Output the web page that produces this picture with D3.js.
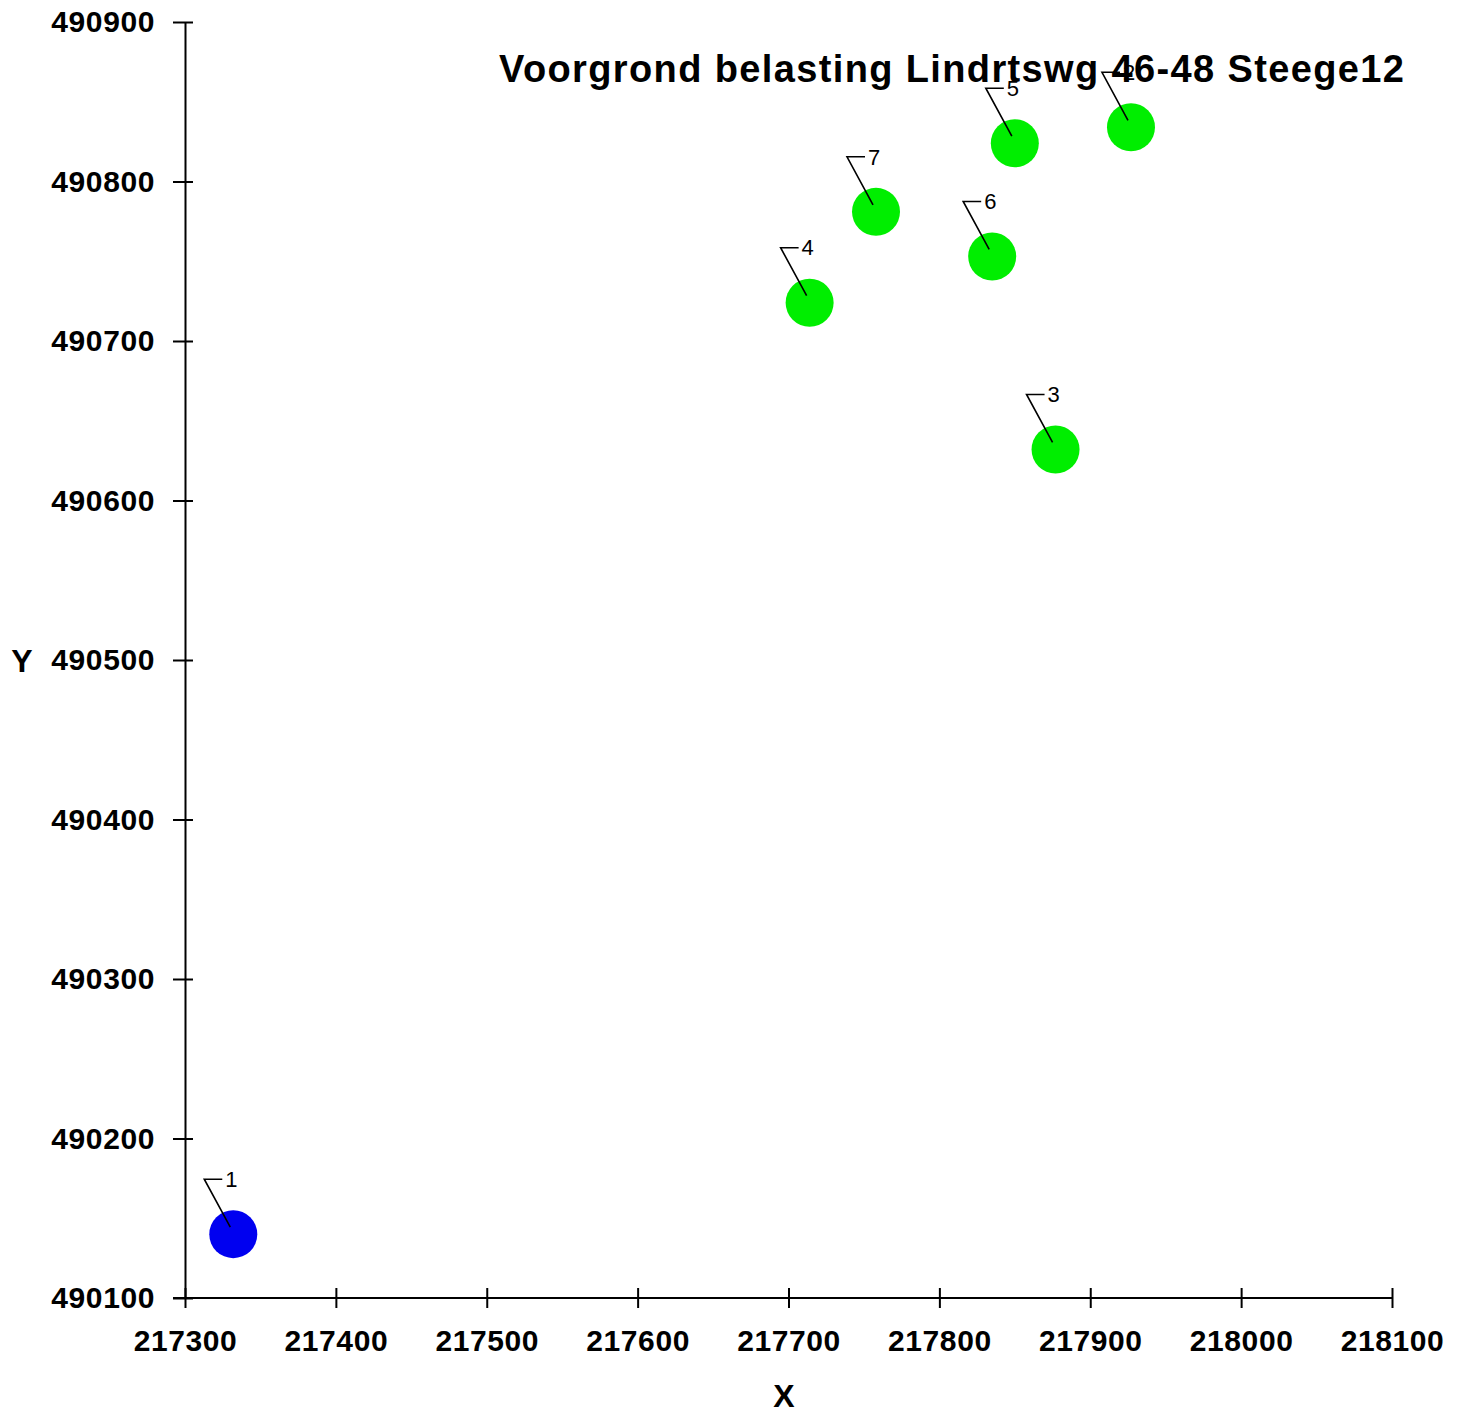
<!DOCTYPE html>
<html>
<head>
<meta charset="utf-8">
<script src="https://cdn.jsdelivr.net/npm/d3@7"></script>
<style>
  html, body { margin: 0; padding: 0; background: #fff; }
  svg { display: block; }
  text { font-family: "Liberation Sans", Arial, sans-serif; }
</style>
</head>
<body>
<svg id="chart" width="1467" height="1423"></svg>
<script>
// ---- data ----
const title = "Voorgrond belasting Lindrtswg 46-48 Steege12";
const pointLabels = ["1", "2", "3", "4", "5", "6", "7"];
const pointX = [217332, 217927, 217877, 217714, 217850, 217835, 217758];
const pointY = [490140, 490834, 490632, 490724, 490824, 490753, 490781];
const pointGroup = ["bron", "punt", "punt", "punt", "punt", "punt", "punt"];
const xTicks = [217300, 217400, 217500, 217600, 217700, 217800, 217900, 218000, 218100];
const yTicks = [490100, 490200, 490300, 490400, 490500, 490600, 490700, 490800, 490900];

// ---- layout ----
const svg = d3.select("#chart");
const plotLeft = 185, plotRight = 1392, plotTop = 22, plotBottom = 1298;
const x = d3.scaleLinear().domain([217300, 218100]).range([plotLeft, plotRight]);
const y = d3.scaleLinear().domain([490100, 490900]).range([plotBottom, plotTop]);
const color = d3.scaleOrdinal().domain(["bron", "punt"]).range(["#0000f0", "#00ee00"]);

// axes
const xAxis = d3.axisBottom(x).tickValues(xTicks).tickFormat(d3.format("d"))
  .tickSizeInner(10).tickSizeOuter(0).tickPadding(22);
const yAxis = d3.axisLeft(y).tickValues(yTicks).tickFormat(d3.format("d"))
  .tickSizeInner(12).tickSizeOuter(0).tickPadding(18);

const gx = svg.append("g").attr("transform", `translate(0,${plotBottom})`).call(xAxis);
const gy = svg.append("g").attr("transform", `translate(${plotLeft},0)`).call(yAxis);

[gx, gy].forEach(g => {
  g.select(".domain").attr("stroke", "#000").attr("stroke-width", 2);
  g.selectAll(".tick line").attr("stroke", "#000").attr("stroke-width", 2);
  g.selectAll(".tick text").attr("fill", "#000")
    .style("font-family", '"Liberation Sans", Arial, sans-serif')
    .style("font-size", "30px").style("font-weight", "bold")
    .style("letter-spacing", "0.6px");
});
// ticks cross the axis
gx.selectAll(".tick line").attr("y1", -10).attr("y2", 10);
gy.selectAll(".tick line").attr("x1", -12).attr("x2", 8);
gx.select(".domain").attr("d", `M${plotLeft - 12},0H${plotRight}`);
gx.selectAll(".tick text").attr("dy", "0.71em");

// axis titles
svg.append("text").attr("x", 784).attr("y", 1407).attr("text-anchor", "middle")
  .style("font-size", "32px").style("font-weight", "bold").text("X");
svg.append("text").attr("x", 22).attr("y", 660).attr("dy", "0.36em").attr("text-anchor", "middle")
  .style("font-size", "32px").style("font-weight", "bold").text("Y");

// points
const pts = pointLabels.map((l, i) => ({ label: l, x: pointX[i], y: pointY[i], g: pointGroup[i] }));
const pg = svg.append("g");
pg.selectAll("circle").data(pts).join("circle")
  .attr("cx", d => x(d.x)).attr("cy", d => y(d.y)).attr("r", 24)
  .attr("fill", d => color(d.g));

// leaders and labels
const lg = svg.append("g");
pts.forEach(d => {
  const cx = x(d.x), cy = y(d.y);
  lg.append("path")
    .attr("d", `M${cx - 3},${cy - 7}L${cx - 29},${cy - 55}H${cx - 11}`)
    .attr("fill", "none").attr("stroke", "#000").attr("stroke-width", 1.6);
  lg.append("text").attr("x", cx - 8).attr("y", cy - 55).attr("dy", "0.35em")
    .style("font-size", "22px").attr("fill", "#000").text(d.label);
});

// title (drawn on top)
svg.append("text").attr("x", 499).attr("y", 82)
  .attr("textLength", 905).attr("lengthAdjust", "spacing")
  .style("font-size", "38px").style("font-weight", "bold").attr("fill", "#000").text(title);
</script>
</body>
</html>
